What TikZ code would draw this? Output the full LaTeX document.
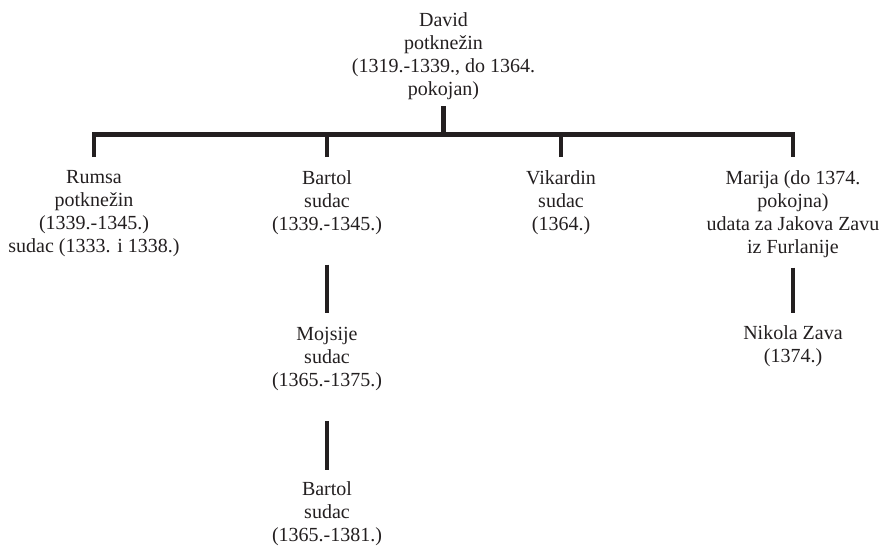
\documentclass[tikz,border=0pt]{standalone}
\usepackage{fontspec}
\setmainfont{Liberation Serif}
\usepackage{tikz}
\usetikzlibrary{positioning}
\definecolor{ink}{HTML}{231F20}
\tikzset{
  x=1pt, y=-1pt,
  person/.style={inner sep=0pt, align=center, anchor=north, text=ink,
    font=\fontsize{20}{23}\selectfont},
  stem/.style={draw=ink, line width=4.5pt},
}

\begin{document}
\begin{tikzpicture}
      \useasboundingbox (0,0) rectangle (884,546);

      \node[person] (david) at (443.5,12.5) {David\\potknežin\\(1319.-1339., do 1364.\\pokojan)};
      \coordinate (bar) at (443.5,134.5);

      \node[person] (rumsa) at (94,170) {Rumsa\\potknežin\\(1339.-1345.)\\sudac (1333. i 1338.)};
      \node[person] (bartol) at (327,170) {Bartol\\sudac\\(1339.-1345.)};
      \node[person] (vikardin) at (561,170) {Vikardin\\sudac\\(1364.)};
      \node[person] (marija) at (793,170) {Marija (do 1374.\\pokojna)\\udata za Jakova Zavu\\iz Furlanije};

      \node[person] (mojsije) at (327,327) {Mojsije\\sudac\\(1365.-1375.)};
      \node[person] (bartolm) at (327,481) {Bartol\\sudac\\(1365.-1381.)};
      \node[person] (nikola) at (793,325) {Nikola Zava\\(1374.)};

      % family lines
      \draw[stem] ([yshift=-6pt]david.south) -- (bar);
      \draw[stem] ([yshift=13pt]rumsa.north) |- (bar) -| ([yshift=13pt]marija.north);
      \draw[stem] ([yshift=13pt]bartol.north) -- (bartol.north |- bar);
      \draw[stem] ([yshift=13pt]vikardin.north) -- (vikardin.north |- bar);
      \draw[stem] ([yshift=-30pt]bartol.south) -- ([yshift=14pt]mojsije.north);
      \draw[stem] ([yshift=-30pt]mojsije.south) -- ([yshift=11pt]bartolm.north);
      \draw[stem] ([yshift=-10pt]marija.south) -- ([yshift=12pt]nikola.north);
    \end{tikzpicture}
\end{document}
